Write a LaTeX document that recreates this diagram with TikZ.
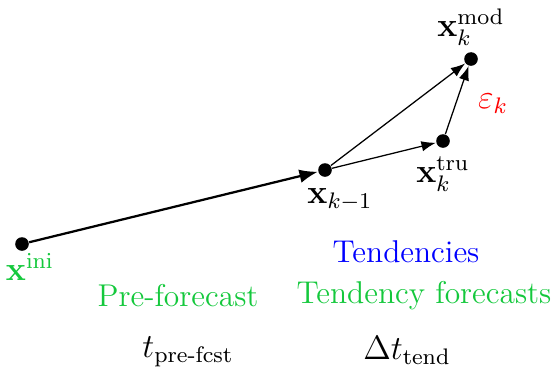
\documentclass[tikz,border=0pt]{standalone}
\usepackage{amsmath}
\usepackage{xcolor}
\definecolor{cGreen}{RGB}{20,200,60}
\definecolor{cBlue}{RGB}{0,0,255}
\definecolor{cRed}{RGB}{255,0,0}
\usepackage{tikz}
\usetikzlibrary{positioning,arrows.meta}
\tikzset{
  node-dot/.style={circle,fill=black,inner sep=0pt,minimum size=0.17cm},
  node-lbl/.style={inner sep=0.5pt,font=\large},
  node-txt/.style={inner sep=1pt,font=\fontsize{11.2}{13}\selectfont},
  arrow-main/.style={-{Latex[length=2.3mm,width=1.7mm]},thick},
  arrow-step/.style={-{Latex[length=1.8mm,width=1.3mm]},line width=0.45pt},
}

\begin{document}
\begin{tikzpicture}[x=0.0125cm,y=-0.0125cm,font=\large]
  \useasboundingbox (0,0) rectangle (554,373);
  % states
  \node[node-dot] (ini) at (22,244) {};
  \node[node-dot] (prev) at (325,170) {};
  \node[node-dot] (tru) at (443,141) {};
  \node[node-dot] (mod) at (471,59) {};
  % state labels
  \node[node-lbl,text=cGreen] (lini) at (30,267) {$\mathbf{x}^{\mathrm{ini}}$};
  \node[node-lbl] (lprev) at (340,200) {$\mathbf{x}_{k-1}$};
  \node[node-lbl] (ltru) at (443,174) {$\mathbf{x}_k^{\mathrm{tru}}$};
  \node[node-lbl] (lmod) at (471,27) {$\mathbf{x}_k^{\mathrm{mod}}$};
  \node[node-lbl,text=cRed] (leps) at (493,104) {$\varepsilon_k$};
  % trajectories
  \draw[arrow-main] (ini) -- (prev);
  \draw[arrow-step] (prev) -- (tru);
  \draw[arrow-step] (prev) -- (mod);
  \draw[arrow-step] (tru) -- (mod);
  % legend
  \node[node-txt,text=cBlue] (tend) at (406,252) {Tendencies};
  \node[node-txt,text=cGreen] (pre) at (178,296) {Pre-forecast};
  \node[node-txt,text=cGreen] (tfc) at (424,296) {Tendency forecasts};
  \node (tpre) at (188,352) {$t_{\text{pre-fcst}}$};
  \node (dtt) at (407,351) {$\Delta t_{\text{tend}}$};
\end{tikzpicture}
\end{document}
